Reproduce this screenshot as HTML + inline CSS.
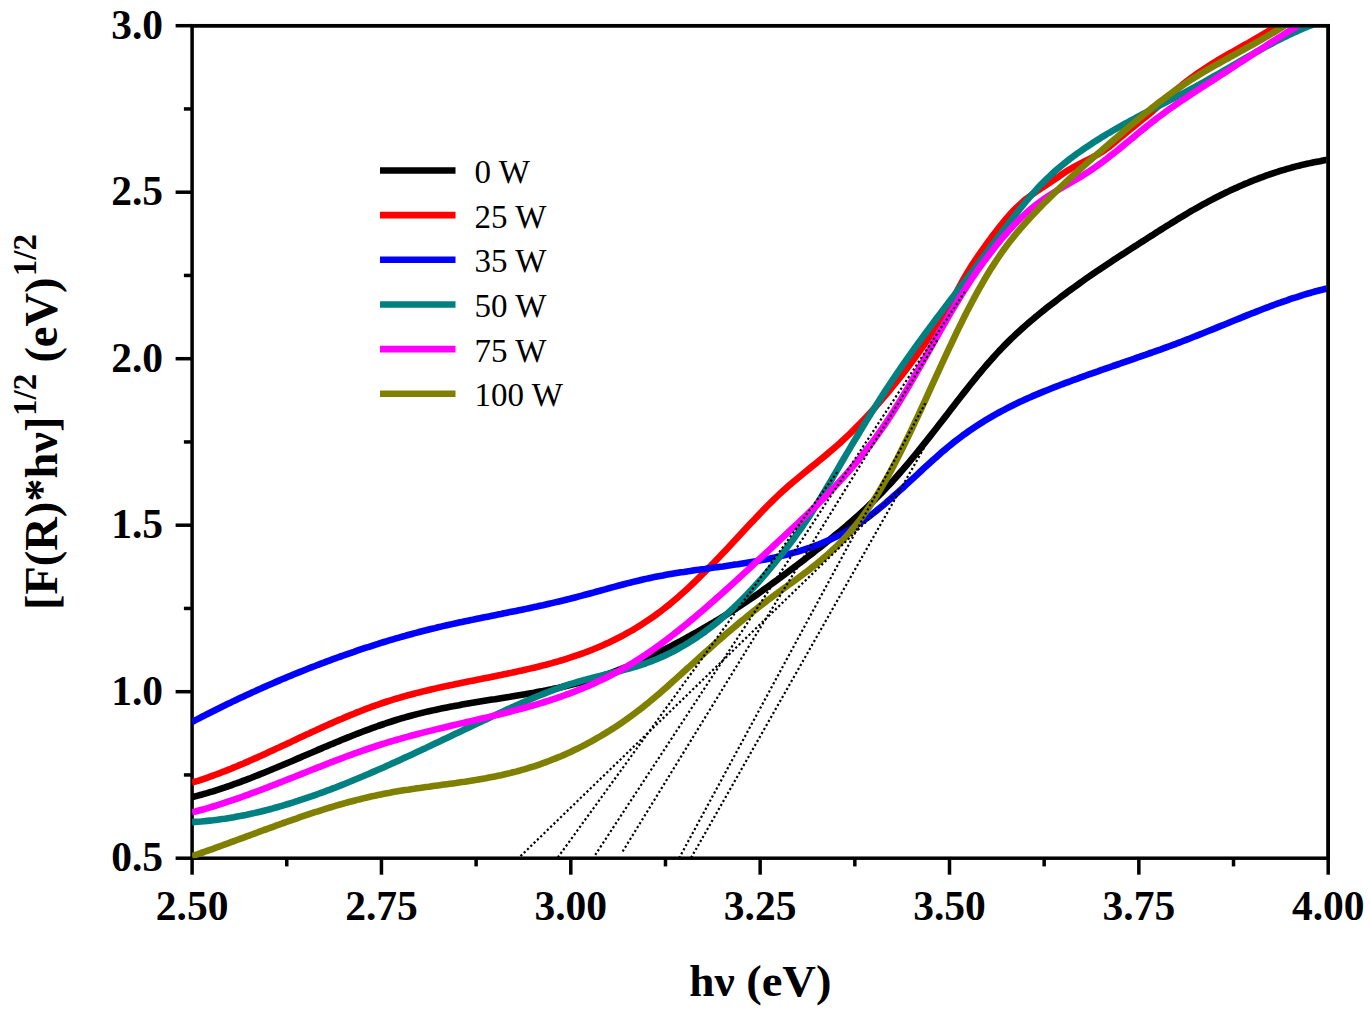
<!DOCTYPE html>
<html lang="en"><head><meta charset="utf-8"><title>Tauc plot</title>
<style>
html,body{margin:0;padding:0;background:#fff;}
body{width:1370px;height:1017px;overflow:hidden;}
svg{display:block;}
</style></head><body>
<svg width="1370" height="1017" viewBox="0 0 1370 1017">
<rect x="0" y="0" width="1370" height="1017" fill="#fff"/>
<defs><clipPath id="cp"><rect x="192.1" y="25.7" width="1136.10" height="832.50"/></clipPath></defs>
<g stroke="#000" stroke-width="3.5" fill="none" stroke-linecap="butt">
<rect x="192.1" y="25.7" width="1136.10" height="832.50"/>
<line x1="192.10" y1="858.2" x2="192.10" y2="874.70"/>
<line x1="286.77" y1="858.2" x2="286.77" y2="866.40"/>
<line x1="381.45" y1="858.2" x2="381.45" y2="874.70"/>
<line x1="476.12" y1="858.2" x2="476.12" y2="866.40"/>
<line x1="570.80" y1="858.2" x2="570.80" y2="874.70"/>
<line x1="665.48" y1="858.2" x2="665.48" y2="866.40"/>
<line x1="760.15" y1="858.2" x2="760.15" y2="874.70"/>
<line x1="854.83" y1="858.2" x2="854.83" y2="866.40"/>
<line x1="949.50" y1="858.2" x2="949.50" y2="874.70"/>
<line x1="1044.17" y1="858.2" x2="1044.17" y2="866.40"/>
<line x1="1138.85" y1="858.2" x2="1138.85" y2="874.70"/>
<line x1="1233.53" y1="858.2" x2="1233.53" y2="866.40"/>
<line x1="1328.20" y1="858.2" x2="1328.20" y2="874.70"/>
<line x1="192.1" y1="858.20" x2="175.60" y2="858.20"/>
<line x1="192.1" y1="774.95" x2="183.90" y2="774.95"/>
<line x1="192.1" y1="691.70" x2="175.60" y2="691.70"/>
<line x1="192.1" y1="608.45" x2="183.90" y2="608.45"/>
<line x1="192.1" y1="525.20" x2="175.60" y2="525.20"/>
<line x1="192.1" y1="441.95" x2="183.90" y2="441.95"/>
<line x1="192.1" y1="358.70" x2="175.60" y2="358.70"/>
<line x1="192.1" y1="275.45" x2="183.90" y2="275.45"/>
<line x1="192.1" y1="192.20" x2="175.60" y2="192.20"/>
<line x1="192.1" y1="108.95" x2="183.90" y2="108.95"/>
<line x1="192.1" y1="25.70" x2="175.60" y2="25.70"/>
</g>
<g clip-path="url(#cp)" fill="none" stroke-linejoin="round" stroke-linecap="butt">
<path d="M192.0 797.2 L195.0 796.4 L198.0 795.6 L201.0 794.8 L204.0 793.9 L207.0 793.1 L210.0 792.2 L213.0 791.3 L216.0 790.3 L219.0 789.4 L222.0 788.4 L225.0 787.4 L228.0 786.3 L231.0 785.3 L234.0 784.2 L237.0 783.2 L240.0 782.1 L243.0 780.9 L246.0 779.8 L249.0 778.7 L252.0 777.5 L255.0 776.3 L258.0 775.1 L261.0 773.9 L264.0 772.7 L267.0 771.5 L270.0 770.3 L273.0 769.0 L276.0 767.8 L279.0 766.5 L282.0 765.3 L285.0 764.0 L288.0 762.7 L291.0 761.5 L294.0 760.2 L297.0 758.9 L300.0 757.6 L303.0 756.3 L306.0 755.0 L309.0 753.7 L312.0 752.5 L315.0 751.2 L318.0 749.9 L321.0 748.6 L324.0 747.3 L327.0 746.1 L330.0 744.8 L333.0 743.6 L336.0 742.3 L339.0 741.1 L342.0 739.8 L345.0 738.6 L348.0 737.4 L351.0 736.2 L354.0 735.0 L357.0 733.8 L360.0 732.7 L363.0 731.5 L366.0 730.4 L369.0 729.3 L372.0 728.2 L375.0 727.1 L378.0 726.0 L381.0 725.0 L384.0 724.0 L387.0 722.9 L390.0 722.0 L393.0 721.0 L396.0 720.0 L399.0 719.1 L402.0 718.2 L405.0 717.4 L408.0 716.5 L411.0 715.7 L414.0 714.9 L417.0 714.1 L420.0 713.4 L423.0 712.6 L426.0 711.9 L429.0 711.2 L432.0 710.6 L435.0 709.9 L438.0 709.3 L441.0 708.6 L444.0 708.0 L447.0 707.4 L450.0 706.8 L453.0 706.3 L456.0 705.7 L459.0 705.2 L462.0 704.6 L465.0 704.1 L468.0 703.6 L471.0 703.1 L474.0 702.6 L477.0 702.1 L480.0 701.6 L483.0 701.1 L486.0 700.6 L489.0 700.1 L492.0 699.6 L495.0 699.2 L498.0 698.7 L501.0 698.2 L504.0 697.7 L507.0 697.2 L510.0 696.8 L513.0 696.3 L516.0 695.8 L519.0 695.3 L522.0 694.8 L525.0 694.3 L528.0 693.7 L531.0 693.2 L534.0 692.7 L537.0 692.1 L540.0 691.5 L543.0 691.0 L546.0 690.4 L549.0 689.8 L552.0 689.2 L555.0 688.5 L558.0 687.9 L561.0 687.2 L564.0 686.5 L567.0 685.8 L570.0 685.1 L573.0 684.4 L576.0 683.6 L579.0 682.8 L582.0 682.0 L585.0 681.2 L588.0 680.3 L591.0 679.4 L594.0 678.5 L597.0 677.6 L600.0 676.6 L603.0 675.6 L606.0 674.6 L609.0 673.6 L612.0 672.5 L615.0 671.4 L618.0 670.2 L621.0 669.1 L624.0 667.9 L627.0 666.7 L630.0 665.4 L633.0 664.2 L636.0 662.9 L639.0 661.5 L642.0 660.2 L645.0 658.8 L648.0 657.4 L651.0 656.0 L654.0 654.6 L657.0 653.1 L660.0 651.7 L663.0 650.2 L666.0 648.7 L669.0 647.1 L672.0 645.6 L675.0 644.0 L678.0 642.4 L681.0 640.8 L684.0 639.2 L687.0 637.5 L690.0 635.9 L693.0 634.2 L696.0 632.5 L699.0 630.8 L702.0 629.1 L705.0 627.3 L708.0 625.6 L711.0 623.8 L714.0 622.1 L717.0 620.3 L720.0 618.5 L723.0 616.7 L726.0 614.8 L729.0 613.0 L732.0 611.1 L735.0 609.2 L738.0 607.3 L741.0 605.3 L744.0 603.3 L747.0 601.3 L750.0 599.3 L753.0 597.3 L756.0 595.2 L759.0 593.1 L762.0 590.9 L765.0 588.8 L768.0 586.6 L771.0 584.4 L774.0 582.3 L777.0 580.1 L780.0 577.9 L783.0 575.6 L786.0 573.4 L789.0 571.2 L792.0 568.9 L795.0 566.6 L798.0 564.4 L801.0 562.1 L804.0 559.8 L807.0 557.5 L810.0 555.1 L813.0 552.8 L816.0 550.5 L819.0 548.1 L822.0 545.8 L825.0 543.4 L828.0 541.0 L831.0 538.6 L834.0 536.1 L837.0 533.7 L840.0 531.2 L843.0 528.7 L846.0 526.2 L849.0 523.6 L852.0 521.0 L855.0 518.3 L858.0 515.6 L861.0 512.9 L864.0 510.1 L867.0 507.3 L870.0 504.4 L873.0 501.5 L876.0 498.5 L879.0 495.5 L882.0 492.4 L885.0 489.3 L888.0 486.1 L891.0 482.9 L894.0 479.6 L897.0 476.2 L900.0 472.8 L903.0 469.4 L906.0 465.8 L909.0 462.3 L912.0 458.7 L915.0 455.1 L918.0 451.4 L921.0 447.7 L924.0 443.9 L927.0 440.2 L930.0 436.4 L933.0 432.5 L936.0 428.7 L939.0 424.8 L942.0 420.9 L945.0 417.1 L948.0 413.2 L951.0 409.3 L954.0 405.4 L957.0 401.5 L960.0 397.7 L963.0 393.9 L966.0 390.1 L969.0 386.3 L972.0 382.5 L975.0 378.8 L978.0 375.2 L981.0 371.6 L984.0 368.0 L987.0 364.5 L990.0 361.1 L993.0 357.7 L996.0 354.4 L999.0 351.1 L1002.0 348.0 L1005.0 344.9 L1008.0 341.9 L1011.0 338.9 L1014.0 336.1 L1017.0 333.2 L1020.0 330.5 L1023.0 327.8 L1026.0 325.1 L1029.0 322.5 L1032.0 320.0 L1035.0 317.4 L1038.0 315.0 L1041.0 312.5 L1044.0 310.1 L1047.0 307.7 L1050.0 305.4 L1053.0 303.1 L1056.0 300.8 L1059.0 298.5 L1062.0 296.2 L1065.0 294.0 L1068.0 291.7 L1071.0 289.5 L1074.0 287.3 L1077.0 285.2 L1080.0 283.0 L1083.0 280.9 L1086.0 278.7 L1089.0 276.6 L1092.0 274.5 L1095.0 272.5 L1098.0 270.4 L1101.0 268.4 L1104.0 266.4 L1107.0 264.4 L1110.0 262.4 L1113.0 260.4 L1116.0 258.5 L1119.0 256.5 L1122.0 254.6 L1125.0 252.7 L1128.0 250.7 L1131.0 248.8 L1134.0 246.9 L1137.0 245.0 L1140.0 243.0 L1143.0 241.1 L1146.0 239.2 L1149.0 237.3 L1152.0 235.4 L1155.0 233.4 L1158.0 231.5 L1161.0 229.6 L1164.0 227.7 L1167.0 225.8 L1170.0 224.0 L1173.0 222.1 L1176.0 220.3 L1179.0 218.4 L1182.0 216.6 L1185.0 214.8 L1188.0 213.0 L1191.0 211.2 L1194.0 209.5 L1197.0 207.8 L1200.0 206.1 L1203.0 204.4 L1206.0 202.8 L1209.0 201.2 L1212.0 199.6 L1215.0 198.0 L1218.0 196.5 L1221.0 195.0 L1224.0 193.5 L1227.0 192.1 L1230.0 190.6 L1233.0 189.2 L1236.0 187.9 L1239.0 186.5 L1242.0 185.2 L1245.0 183.9 L1248.0 182.7 L1251.0 181.4 L1254.0 180.2 L1257.0 179.1 L1260.0 177.9 L1263.0 176.8 L1266.0 175.7 L1269.0 174.7 L1272.0 173.6 L1275.0 172.6 L1278.0 171.7 L1281.0 170.7 L1284.0 169.8 L1287.0 168.9 L1290.0 168.1 L1293.0 167.2 L1296.0 166.4 L1299.0 165.7 L1302.0 164.9 L1305.0 164.2 L1308.0 163.6 L1311.0 162.9 L1314.0 162.3 L1317.0 161.7 L1320.0 161.2 L1323.0 160.6 L1326.0 160.1 L1326.5 160.1" stroke="#000000" stroke-width="6.6"/>
<path d="M192.0 782.7 L195.0 781.7 L198.0 780.8 L201.0 779.8 L204.0 778.8 L207.0 777.8 L210.0 776.7 L213.0 775.6 L216.0 774.5 L219.0 773.4 L222.0 772.2 L225.0 771.1 L228.0 769.9 L231.0 768.7 L234.0 767.4 L237.0 766.2 L240.0 764.9 L243.0 763.7 L246.0 762.4 L249.0 761.1 L252.0 759.7 L255.0 758.4 L258.0 757.1 L261.0 755.7 L264.0 754.4 L267.0 753.0 L270.0 751.6 L273.0 750.2 L276.0 748.8 L279.0 747.5 L282.0 746.1 L285.0 744.7 L288.0 743.3 L291.0 741.9 L294.0 740.4 L297.0 739.0 L300.0 737.6 L303.0 736.2 L306.0 734.8 L309.0 733.5 L312.0 732.1 L315.0 730.7 L318.0 729.3 L321.0 727.9 L324.0 726.6 L327.0 725.2 L330.0 723.9 L333.0 722.6 L336.0 721.2 L339.0 719.9 L342.0 718.7 L345.0 717.4 L348.0 716.1 L351.0 714.9 L354.0 713.7 L357.0 712.4 L360.0 711.3 L363.0 710.1 L366.0 708.9 L369.0 707.8 L372.0 706.7 L375.0 705.6 L378.0 704.6 L381.0 703.5 L384.0 702.5 L387.0 701.5 L390.0 700.6 L393.0 699.7 L396.0 698.7 L399.0 697.9 L402.0 697.0 L405.0 696.1 L408.0 695.3 L411.0 694.5 L414.0 693.7 L417.0 692.9 L420.0 692.2 L423.0 691.4 L426.0 690.7 L429.0 690.0 L432.0 689.3 L435.0 688.6 L438.0 687.9 L441.0 687.2 L444.0 686.6 L447.0 685.9 L450.0 685.3 L453.0 684.7 L456.0 684.0 L459.0 683.4 L462.0 682.8 L465.0 682.2 L468.0 681.6 L471.0 681.0 L474.0 680.4 L477.0 679.8 L480.0 679.2 L483.0 678.6 L486.0 678.0 L489.0 677.4 L492.0 676.8 L495.0 676.2 L498.0 675.6 L501.0 675.0 L504.0 674.3 L507.0 673.7 L510.0 673.1 L513.0 672.4 L516.0 671.8 L519.0 671.1 L522.0 670.5 L525.0 669.8 L528.0 669.1 L531.0 668.4 L534.0 667.7 L537.0 667.0 L540.0 666.2 L543.0 665.4 L546.0 664.7 L549.0 663.9 L552.0 663.1 L555.0 662.2 L558.0 661.4 L561.0 660.5 L564.0 659.6 L567.0 658.6 L570.0 657.7 L573.0 656.7 L576.0 655.7 L579.0 654.7 L582.0 653.6 L585.0 652.5 L588.0 651.4 L591.0 650.2 L594.0 649.0 L597.0 647.8 L600.0 646.5 L603.0 645.2 L606.0 643.8 L609.0 642.4 L612.0 641.0 L615.0 639.5 L618.0 638.0 L621.0 636.5 L624.0 634.9 L627.0 633.2 L630.0 631.5 L633.0 629.8 L636.0 628.0 L639.0 626.2 L642.0 624.3 L645.0 622.3 L648.0 620.3 L651.0 618.3 L654.0 616.2 L657.0 614.0 L660.0 611.8 L663.0 609.5 L666.0 607.2 L669.0 604.8 L672.0 602.3 L675.0 599.8 L678.0 597.2 L681.0 594.6 L684.0 591.9 L687.0 589.1 L690.0 586.3 L693.0 583.5 L696.0 580.6 L699.0 577.7 L702.0 574.7 L705.0 571.7 L708.0 568.7 L711.0 565.6 L714.0 562.5 L717.0 559.4 L720.0 556.3 L723.0 553.1 L726.0 549.9 L729.0 546.7 L732.0 543.5 L735.0 540.3 L738.0 537.0 L741.0 533.8 L744.0 530.5 L747.0 527.3 L750.0 524.1 L753.0 520.9 L756.0 517.7 L759.0 514.6 L762.0 511.4 L765.0 508.4 L768.0 505.3 L771.0 502.3 L774.0 499.4 L777.0 496.5 L780.0 493.7 L783.0 490.9 L786.0 488.2 L789.0 485.6 L792.0 483.0 L795.0 480.5 L798.0 478.0 L801.0 475.5 L804.0 473.0 L807.0 470.6 L810.0 468.1 L813.0 465.7 L816.0 463.3 L819.0 460.8 L822.0 458.4 L825.0 455.9 L828.0 453.4 L831.0 450.8 L834.0 448.3 L837.0 445.6 L840.0 443.0 L843.0 440.2 L846.0 437.4 L849.0 434.6 L852.0 431.7 L855.0 428.7 L858.0 425.7 L861.0 422.6 L864.0 419.4 L867.0 416.2 L870.0 413.0 L873.0 409.7 L876.0 406.3 L879.0 402.9 L882.0 399.4 L885.0 395.9 L888.0 392.3 L891.0 388.7 L894.0 385.0 L897.0 381.2 L900.0 377.4 L903.0 373.6 L906.0 369.7 L909.0 365.7 L912.0 361.7 L915.0 357.7 L918.0 353.5 L921.0 349.3 L924.0 345.1 L927.0 340.7 L930.0 336.2 L933.0 331.7 L936.0 327.0 L939.0 322.3 L942.0 317.4 L945.0 312.4 L948.0 307.2 L951.0 302.0 L954.0 296.6 L957.0 291.1 L960.0 285.6 L963.0 280.2 L966.0 275.0 L969.0 269.9 L972.0 265.1 L975.0 260.6 L978.0 256.2 L981.0 251.9 L984.0 247.7 L987.0 243.5 L990.0 239.4 L993.0 235.3 L996.0 231.4 L999.0 227.5 L1002.0 223.8 L1005.0 220.2 L1008.0 216.7 L1011.0 213.3 L1014.0 210.1 L1017.0 207.1 L1020.0 204.3 L1023.0 201.6 L1026.0 199.1 L1029.0 196.8 L1032.0 194.6 L1035.0 192.5 L1038.0 190.4 L1041.0 188.4 L1044.0 186.5 L1047.0 184.5 L1050.0 182.5 L1053.0 180.5 L1056.0 178.4 L1059.0 176.4 L1062.0 174.3 L1065.0 172.3 L1068.0 170.4 L1071.0 168.6 L1074.0 166.9 L1077.0 165.3 L1080.0 163.7 L1083.0 162.2 L1086.0 160.7 L1089.0 159.2 L1092.0 157.6 L1095.0 156.0 L1098.0 154.3 L1101.0 152.5 L1104.0 150.5 L1107.0 148.4 L1110.0 146.1 L1113.0 143.7 L1116.0 141.2 L1119.0 138.6 L1122.0 136.1 L1125.0 133.6 L1128.0 131.2 L1131.0 128.7 L1134.0 126.3 L1137.0 123.9 L1140.0 121.5 L1143.0 119.0 L1146.0 116.6 L1149.0 114.1 L1152.0 111.6 L1155.0 109.0 L1158.0 106.4 L1161.0 103.7 L1164.0 100.9 L1167.0 98.2 L1170.0 95.5 L1173.0 92.8 L1176.0 90.1 L1179.0 87.6 L1182.0 85.1 L1185.0 82.7 L1188.0 80.4 L1191.0 78.1 L1194.0 75.9 L1197.0 73.8 L1200.0 71.7 L1203.0 69.7 L1206.0 67.7 L1209.0 65.8 L1212.0 63.9 L1215.0 62.0 L1218.0 60.2 L1221.0 58.4 L1224.0 56.7 L1227.0 54.9 L1230.0 53.2 L1233.0 51.5 L1236.0 49.8 L1239.0 48.1 L1242.0 46.4 L1245.0 44.7 L1248.0 43.1 L1251.0 41.4 L1254.0 39.6 L1257.0 37.9 L1260.0 36.2 L1263.0 34.4 L1266.0 32.6 L1269.0 30.7 L1272.0 28.9 L1275.0 26.9 L1278.0 25.0 L1281.0 23.0 L1284.0 20.9 L1287.0 18.8 L1290.0 16.6" stroke="#FF0000" stroke-width="6.6"/>
<path d="M192.0 722.0 L195.0 720.4 L198.0 718.9 L201.0 717.3 L204.0 715.8 L207.0 714.2 L210.0 712.7 L213.0 711.2 L216.0 709.7 L219.0 708.2 L222.0 706.7 L225.0 705.3 L228.0 703.8 L231.0 702.4 L234.0 700.9 L237.0 699.5 L240.0 698.1 L243.0 696.7 L246.0 695.3 L249.0 693.9 L252.0 692.5 L255.0 691.2 L258.0 689.8 L261.0 688.5 L264.0 687.1 L267.0 685.8 L270.0 684.5 L273.0 683.2 L276.0 681.9 L279.0 680.6 L282.0 679.3 L285.0 678.1 L288.0 676.8 L291.0 675.6 L294.0 674.3 L297.0 673.1 L300.0 671.9 L303.0 670.7 L306.0 669.5 L309.0 668.3 L312.0 667.1 L315.0 666.0 L318.0 664.8 L321.0 663.7 L324.0 662.6 L327.0 661.4 L330.0 660.3 L333.0 659.2 L336.0 658.1 L339.0 657.0 L342.0 656.0 L345.0 654.9 L348.0 653.8 L351.0 652.8 L354.0 651.8 L357.0 650.7 L360.0 649.7 L363.0 648.7 L366.0 647.7 L369.0 646.8 L372.0 645.8 L375.0 644.8 L378.0 643.9 L381.0 642.9 L384.0 642.0 L387.0 641.1 L390.0 640.2 L393.0 639.3 L396.0 638.4 L399.0 637.6 L402.0 636.7 L405.0 635.9 L408.0 635.0 L411.0 634.2 L414.0 633.4 L417.0 632.6 L420.0 631.8 L423.0 631.0 L426.0 630.3 L429.0 629.5 L432.0 628.8 L435.0 628.1 L438.0 627.3 L441.0 626.6 L444.0 625.9 L447.0 625.2 L450.0 624.6 L453.0 623.9 L456.0 623.2 L459.0 622.6 L462.0 622.0 L465.0 621.3 L468.0 620.7 L471.0 620.1 L474.0 619.4 L477.0 618.8 L480.0 618.2 L483.0 617.6 L486.0 617.0 L489.0 616.4 L492.0 615.8 L495.0 615.2 L498.0 614.6 L501.0 614.0 L504.0 613.3 L507.0 612.7 L510.0 612.1 L513.0 611.5 L516.0 610.9 L519.0 610.3 L522.0 609.7 L525.0 609.1 L528.0 608.4 L531.0 607.8 L534.0 607.1 L537.0 606.5 L540.0 605.8 L543.0 605.2 L546.0 604.5 L549.0 603.8 L552.0 603.1 L555.0 602.4 L558.0 601.7 L561.0 601.0 L564.0 600.3 L567.0 599.5 L570.0 598.8 L573.0 598.0 L576.0 597.2 L579.0 596.4 L582.0 595.6 L585.0 594.8 L588.0 594.0 L591.0 593.2 L594.0 592.4 L597.0 591.5 L600.0 590.7 L603.0 589.9 L606.0 589.1 L609.0 588.2 L612.0 587.4 L615.0 586.6 L618.0 585.8 L621.0 585.0 L624.0 584.2 L627.0 583.4 L630.0 582.7 L633.0 581.9 L636.0 581.2 L639.0 580.5 L642.0 579.7 L645.0 579.1 L648.0 578.4 L651.0 577.8 L654.0 577.1 L657.0 576.5 L660.0 575.9 L663.0 575.4 L666.0 574.8 L669.0 574.3 L672.0 573.8 L675.0 573.3 L678.0 572.8 L681.0 572.3 L684.0 571.9 L687.0 571.4 L690.0 571.0 L693.0 570.5 L696.0 570.1 L699.0 569.7 L702.0 569.3 L705.0 568.9 L708.0 568.4 L711.0 568.0 L714.0 567.6 L717.0 567.2 L720.0 566.8 L723.0 566.4 L726.0 565.9 L729.0 565.5 L732.0 565.1 L735.0 564.6 L738.0 564.2 L741.0 563.7 L744.0 563.2 L747.0 562.7 L750.0 562.2 L753.0 561.7 L756.0 561.2 L759.0 560.6 L762.0 560.1 L765.0 559.5 L768.0 558.9 L771.0 558.3 L774.0 557.6 L777.0 556.9 L780.0 556.2 L783.0 555.5 L786.0 554.8 L789.0 554.0 L792.0 553.2 L795.0 552.3 L798.0 551.5 L801.0 550.6 L804.0 549.6 L807.0 548.6 L810.0 547.6 L813.0 546.5 L816.0 545.4 L819.0 544.3 L822.0 543.1 L825.0 541.8 L828.0 540.5 L831.0 539.2 L834.0 537.8 L837.0 536.3 L840.0 534.8 L843.0 533.2 L846.0 531.5 L849.0 529.8 L852.0 528.0 L855.0 526.1 L858.0 524.2 L861.0 522.2 L864.0 520.1 L867.0 518.0 L870.0 515.8 L873.0 513.5 L876.0 511.1 L879.0 508.7 L882.0 506.2 L885.0 503.7 L888.0 501.1 L891.0 498.5 L894.0 495.8 L897.0 493.1 L900.0 490.4 L903.0 487.7 L906.0 484.9 L909.0 482.1 L912.0 479.3 L915.0 476.6 L918.0 473.8 L921.0 471.0 L924.0 468.2 L927.0 465.5 L930.0 462.8 L933.0 460.0 L936.0 457.4 L939.0 454.7 L942.0 452.1 L945.0 449.6 L948.0 447.0 L951.0 444.6 L954.0 442.2 L957.0 439.8 L960.0 437.6 L963.0 435.3 L966.0 433.2 L969.0 431.0 L972.0 429.0 L975.0 427.0 L978.0 425.0 L981.0 423.1 L984.0 421.2 L987.0 419.4 L990.0 417.6 L993.0 415.8 L996.0 414.1 L999.0 412.5 L1002.0 410.9 L1005.0 409.3 L1008.0 407.7 L1011.0 406.2 L1014.0 404.7 L1017.0 403.3 L1020.0 401.8 L1023.0 400.5 L1026.0 399.1 L1029.0 397.8 L1032.0 396.4 L1035.0 395.1 L1038.0 393.9 L1041.0 392.6 L1044.0 391.4 L1047.0 390.2 L1050.0 389.0 L1053.0 387.8 L1056.0 386.6 L1059.0 385.5 L1062.0 384.3 L1065.0 383.2 L1068.0 382.1 L1071.0 381.0 L1074.0 379.8 L1077.0 378.8 L1080.0 377.7 L1083.0 376.6 L1086.0 375.5 L1089.0 374.4 L1092.0 373.4 L1095.0 372.3 L1098.0 371.3 L1101.0 370.2 L1104.0 369.2 L1107.0 368.1 L1110.0 367.1 L1113.0 366.0 L1116.0 365.0 L1119.0 364.0 L1122.0 362.9 L1125.0 361.9 L1128.0 360.8 L1131.0 359.8 L1134.0 358.8 L1137.0 357.7 L1140.0 356.7 L1143.0 355.6 L1146.0 354.6 L1149.0 353.5 L1152.0 352.5 L1155.0 351.4 L1158.0 350.3 L1161.0 349.3 L1164.0 348.2 L1167.0 347.1 L1170.0 346.0 L1173.0 344.9 L1176.0 343.8 L1179.0 342.6 L1182.0 341.5 L1185.0 340.3 L1188.0 339.2 L1191.0 338.0 L1194.0 336.8 L1197.0 335.6 L1200.0 334.4 L1203.0 333.2 L1206.0 332.0 L1209.0 330.8 L1212.0 329.6 L1215.0 328.4 L1218.0 327.1 L1221.0 325.9 L1224.0 324.7 L1227.0 323.5 L1230.0 322.2 L1233.0 321.0 L1236.0 319.8 L1239.0 318.6 L1242.0 317.4 L1245.0 316.1 L1248.0 314.9 L1251.0 313.7 L1254.0 312.6 L1257.0 311.4 L1260.0 310.2 L1263.0 309.0 L1266.0 307.9 L1269.0 306.8 L1272.0 305.6 L1275.0 304.5 L1278.0 303.4 L1281.0 302.4 L1284.0 301.3 L1287.0 300.3 L1290.0 299.2 L1293.0 298.2 L1296.0 297.3 L1299.0 296.3 L1302.0 295.3 L1305.0 294.4 L1308.0 293.5 L1311.0 292.7 L1314.0 291.8 L1317.0 291.0 L1320.0 290.2 L1323.0 289.5 L1326.0 288.7 L1326.5 288.6" stroke="#0000FF" stroke-width="6.6"/>
<path d="M192.0 822.1 L195.0 821.9 L198.0 821.7 L201.0 821.5 L204.0 821.2 L207.0 820.9 L210.0 820.6 L213.0 820.3 L216.0 819.9 L219.0 819.5 L222.0 819.1 L225.0 818.7 L228.0 818.2 L231.0 817.7 L234.0 817.2 L237.0 816.6 L240.0 816.1 L243.0 815.5 L246.0 814.9 L249.0 814.2 L252.0 813.6 L255.0 812.9 L258.0 812.2 L261.0 811.5 L264.0 810.7 L267.0 810.0 L270.0 809.2 L273.0 808.4 L276.0 807.5 L279.0 806.7 L282.0 805.8 L285.0 804.9 L288.0 804.0 L291.0 803.1 L294.0 802.2 L297.0 801.2 L300.0 800.2 L303.0 799.2 L306.0 798.2 L309.0 797.2 L312.0 796.2 L315.0 795.1 L318.0 794.0 L321.0 792.9 L324.0 791.8 L327.0 790.7 L330.0 789.6 L333.0 788.4 L336.0 787.3 L339.0 786.1 L342.0 784.9 L345.0 783.7 L348.0 782.5 L351.0 781.3 L354.0 780.0 L357.0 778.8 L360.0 777.5 L363.0 776.3 L366.0 775.0 L369.0 773.7 L372.0 772.4 L375.0 771.1 L378.0 769.8 L381.0 768.5 L384.0 767.2 L387.0 765.8 L390.0 764.5 L393.0 763.1 L396.0 761.8 L399.0 760.4 L402.0 759.0 L405.0 757.6 L408.0 756.3 L411.0 754.9 L414.0 753.5 L417.0 752.1 L420.0 750.7 L423.0 749.3 L426.0 747.9 L429.0 746.4 L432.0 745.0 L435.0 743.6 L438.0 742.2 L441.0 740.8 L444.0 739.3 L447.0 737.9 L450.0 736.5 L453.0 735.0 L456.0 733.6 L459.0 732.2 L462.0 730.8 L465.0 729.3 L468.0 727.9 L471.0 726.5 L474.0 725.1 L477.0 723.6 L480.0 722.2 L483.0 720.8 L486.0 719.4 L489.0 718.0 L492.0 716.6 L495.0 715.2 L498.0 713.8 L501.0 712.4 L504.0 711.0 L507.0 709.6 L510.0 708.2 L513.0 706.9 L516.0 705.5 L519.0 704.2 L522.0 702.9 L525.0 701.6 L528.0 700.3 L531.0 699.0 L534.0 697.7 L537.0 696.5 L540.0 695.3 L543.0 694.1 L546.0 692.9 L549.0 691.7 L552.0 690.6 L555.0 689.4 L558.0 688.4 L561.0 687.3 L564.0 686.2 L567.0 685.2 L570.0 684.2 L573.0 683.3 L576.0 682.4 L579.0 681.5 L582.0 680.6 L585.0 679.8 L588.0 678.9 L591.0 678.2 L594.0 677.4 L597.0 676.6 L600.0 675.9 L603.0 675.2 L606.0 674.4 L609.0 673.7 L612.0 673.0 L615.0 672.2 L618.0 671.5 L621.0 670.7 L624.0 669.9 L627.0 669.1 L630.0 668.3 L633.0 667.4 L636.0 666.5 L639.0 665.6 L642.0 664.6 L645.0 663.6 L648.0 662.5 L651.0 661.4 L654.0 660.2 L657.0 659.0 L660.0 657.7 L663.0 656.4 L666.0 655.0 L669.0 653.6 L672.0 652.1 L675.0 650.5 L678.0 648.9 L681.0 647.2 L684.0 645.5 L687.0 643.7 L690.0 641.8 L693.0 639.9 L696.0 638.0 L699.0 635.9 L702.0 633.8 L705.0 631.7 L708.0 629.4 L711.0 627.1 L714.0 624.8 L717.0 622.4 L720.0 619.9 L723.0 617.3 L726.0 614.7 L729.0 612.0 L732.0 609.3 L735.0 606.4 L738.0 603.5 L741.0 600.6 L744.0 597.6 L747.0 594.5 L750.0 591.3 L753.0 588.1 L756.0 584.8 L759.0 581.5 L762.0 578.1 L765.0 574.6 L768.0 571.1 L771.0 567.5 L774.0 563.9 L777.0 560.2 L780.0 556.5 L783.0 552.7 L786.0 548.8 L789.0 544.9 L792.0 540.9 L795.0 536.9 L798.0 532.7 L801.0 528.5 L804.0 524.2 L807.0 519.7 L810.0 515.1 L813.0 510.5 L816.0 505.7 L819.0 500.8 L822.0 495.8 L825.0 490.8 L828.0 485.7 L831.0 480.6 L834.0 475.4 L837.0 470.3 L840.0 465.1 L843.0 460.0 L846.0 454.9 L849.0 449.8 L852.0 444.7 L855.0 439.7 L858.0 434.7 L861.0 429.8 L864.0 424.8 L867.0 419.9 L870.0 415.1 L873.0 410.3 L876.0 405.5 L879.0 400.7 L882.0 396.1 L885.0 391.4 L888.0 386.9 L891.0 382.3 L894.0 377.8 L897.0 373.4 L900.0 369.0 L903.0 364.7 L906.0 360.4 L909.0 356.1 L912.0 351.9 L915.0 347.7 L918.0 343.5 L921.0 339.4 L924.0 335.3 L927.0 331.2 L930.0 327.2 L933.0 323.1 L936.0 319.1 L939.0 315.2 L942.0 311.2 L945.0 307.2 L948.0 303.3 L951.0 299.3 L954.0 295.4 L957.0 291.5 L960.0 287.6 L963.0 283.6 L966.0 279.7 L969.0 275.8 L972.0 271.9 L975.0 267.9 L978.0 264.0 L981.0 260.0 L984.0 256.1 L987.0 252.1 L990.0 248.1 L993.0 244.1 L996.0 240.1 L999.0 236.1 L1002.0 232.1 L1005.0 228.1 L1008.0 224.2 L1011.0 220.3 L1014.0 216.4 L1017.0 212.6 L1020.0 208.8 L1023.0 205.1 L1026.0 201.5 L1029.0 197.9 L1032.0 194.5 L1035.0 191.1 L1038.0 187.8 L1041.0 184.6 L1044.0 181.6 L1047.0 178.6 L1050.0 175.8 L1053.0 173.0 L1056.0 170.3 L1059.0 167.7 L1062.0 165.2 L1065.0 162.8 L1068.0 160.4 L1071.0 158.1 L1074.0 155.9 L1077.0 153.7 L1080.0 151.6 L1083.0 149.5 L1086.0 147.4 L1089.0 145.4 L1092.0 143.4 L1095.0 141.5 L1098.0 139.6 L1101.0 137.7 L1104.0 135.9 L1107.0 134.0 L1110.0 132.3 L1113.0 130.5 L1116.0 128.8 L1119.0 127.1 L1122.0 125.4 L1125.0 123.7 L1128.0 122.1 L1131.0 120.4 L1134.0 118.8 L1137.0 117.2 L1140.0 115.6 L1143.0 114.0 L1146.0 112.5 L1149.0 110.9 L1152.0 109.4 L1155.0 107.8 L1158.0 106.3 L1161.0 104.7 L1164.0 103.2 L1167.0 101.7 L1170.0 100.1 L1173.0 98.6 L1176.0 97.0 L1179.0 95.4 L1182.0 93.9 L1185.0 92.3 L1188.0 90.7 L1191.0 89.1 L1194.0 87.5 L1197.0 85.8 L1200.0 84.2 L1203.0 82.5 L1206.0 80.8 L1209.0 79.1 L1212.0 77.4 L1215.0 75.7 L1218.0 74.0 L1221.0 72.3 L1224.0 70.5 L1227.0 68.8 L1230.0 67.1 L1233.0 65.3 L1236.0 63.6 L1239.0 61.9 L1242.0 60.1 L1245.0 58.4 L1248.0 56.7 L1251.0 55.0 L1254.0 53.3 L1257.0 51.6 L1260.0 50.0 L1263.0 48.3 L1266.0 46.7 L1269.0 45.1 L1272.0 43.5 L1275.0 41.9 L1278.0 40.4 L1281.0 38.8 L1284.0 37.3 L1287.0 35.9 L1290.0 34.4 L1293.0 33.0 L1296.0 31.7 L1299.0 30.3 L1302.0 29.0 L1305.0 27.8 L1308.0 26.5 L1311.0 25.4 L1314.0 24.2 L1317.0 23.1 L1320.0 22.1 L1323.0 21.1 L1326.0 20.1 L1326.5 20.0" stroke="#008080" stroke-width="6.6"/>
<path d="M192.0 812.4 L195.0 811.6 L198.0 810.8 L201.0 810.0 L204.0 809.2 L207.0 808.3 L210.0 807.4 L213.0 806.5 L216.0 805.6 L219.0 804.6 L222.0 803.7 L225.0 802.7 L228.0 801.7 L231.0 800.7 L234.0 799.7 L237.0 798.6 L240.0 797.6 L243.0 796.5 L246.0 795.4 L249.0 794.3 L252.0 793.2 L255.0 792.1 L258.0 791.0 L261.0 789.9 L264.0 788.7 L267.0 787.6 L270.0 786.4 L273.0 785.2 L276.0 784.1 L279.0 782.9 L282.0 781.7 L285.0 780.5 L288.0 779.3 L291.0 778.2 L294.0 777.0 L297.0 775.8 L300.0 774.6 L303.0 773.4 L306.0 772.2 L309.0 771.0 L312.0 769.8 L315.0 768.6 L318.0 767.4 L321.0 766.3 L324.0 765.1 L327.0 763.9 L330.0 762.7 L333.0 761.6 L336.0 760.4 L339.0 759.3 L342.0 758.2 L345.0 757.0 L348.0 755.9 L351.0 754.8 L354.0 753.7 L357.0 752.7 L360.0 751.6 L363.0 750.5 L366.0 749.5 L369.0 748.5 L372.0 747.5 L375.0 746.5 L378.0 745.5 L381.0 744.5 L384.0 743.6 L387.0 742.7 L390.0 741.7 L393.0 740.9 L396.0 740.0 L399.0 739.1 L402.0 738.3 L405.0 737.4 L408.0 736.6 L411.0 735.8 L414.0 735.0 L417.0 734.2 L420.0 733.4 L423.0 732.6 L426.0 731.9 L429.0 731.1 L432.0 730.4 L435.0 729.6 L438.0 728.9 L441.0 728.2 L444.0 727.5 L447.0 726.7 L450.0 726.0 L453.0 725.3 L456.0 724.6 L459.0 723.9 L462.0 723.2 L465.0 722.5 L468.0 721.8 L471.0 721.1 L474.0 720.4 L477.0 719.7 L480.0 719.0 L483.0 718.3 L486.0 717.6 L489.0 716.9 L492.0 716.1 L495.0 715.4 L498.0 714.7 L501.0 714.0 L504.0 713.2 L507.0 712.5 L510.0 711.7 L513.0 710.9 L516.0 710.1 L519.0 709.3 L522.0 708.5 L525.0 707.7 L528.0 706.9 L531.0 706.0 L534.0 705.2 L537.0 704.3 L540.0 703.4 L543.0 702.5 L546.0 701.5 L549.0 700.6 L552.0 699.6 L555.0 698.6 L558.0 697.6 L561.0 696.6 L564.0 695.5 L567.0 694.4 L570.0 693.3 L573.0 692.2 L576.0 691.0 L579.0 689.8 L582.0 688.6 L585.0 687.3 L588.0 686.1 L591.0 684.8 L594.0 683.4 L597.0 682.0 L600.0 680.6 L603.0 679.2 L606.0 677.7 L609.0 676.2 L612.0 674.7 L615.0 673.1 L618.0 671.5 L621.0 669.8 L624.0 668.1 L627.0 666.4 L630.0 664.6 L633.0 662.8 L636.0 660.9 L639.0 659.0 L642.0 657.1 L645.0 655.1 L648.0 653.0 L651.0 651.0 L654.0 648.9 L657.0 646.7 L660.0 644.6 L663.0 642.3 L666.0 640.1 L669.0 637.8 L672.0 635.5 L675.0 633.2 L678.0 630.8 L681.0 628.4 L684.0 626.0 L687.0 623.6 L690.0 621.1 L693.0 618.6 L696.0 616.1 L699.0 613.5 L702.0 611.0 L705.0 608.4 L708.0 605.8 L711.0 603.1 L714.0 600.5 L717.0 597.8 L720.0 595.2 L723.0 592.5 L726.0 589.8 L729.0 587.1 L732.0 584.3 L735.0 581.6 L738.0 578.8 L741.0 576.1 L744.0 573.3 L747.0 570.6 L750.0 567.8 L753.0 565.0 L756.0 562.2 L759.0 559.4 L762.0 556.6 L765.0 553.8 L768.0 551.1 L771.0 548.3 L774.0 545.5 L777.0 542.7 L780.0 539.9 L783.0 537.1 L786.0 534.3 L789.0 531.5 L792.0 528.7 L795.0 525.9 L798.0 523.1 L801.0 520.2 L804.0 517.4 L807.0 514.5 L810.0 511.6 L813.0 508.7 L816.0 505.8 L819.0 502.8 L822.0 499.8 L825.0 496.8 L828.0 493.7 L831.0 490.6 L834.0 487.5 L837.0 484.3 L840.0 481.0 L843.0 477.8 L846.0 474.4 L849.0 471.0 L852.0 467.5 L855.0 464.0 L858.0 460.4 L861.0 456.7 L864.0 453.0 L867.0 449.1 L870.0 445.2 L873.0 441.2 L876.0 437.1 L879.0 432.9 L882.0 428.7 L885.0 424.3 L888.0 419.8 L891.0 415.2 L894.0 410.5 L897.0 405.7 L900.0 400.9 L903.0 395.9 L906.0 390.9 L909.0 385.8 L912.0 380.6 L915.0 375.4 L918.0 370.2 L921.0 364.9 L924.0 359.6 L927.0 354.3 L930.0 349.0 L933.0 343.6 L936.0 338.3 L939.0 333.0 L942.0 327.8 L945.0 322.6 L948.0 317.4 L951.0 312.2 L954.0 307.2 L957.0 302.2 L960.0 297.2 L963.0 292.4 L966.0 287.7 L969.0 283.0 L972.0 278.5 L975.0 274.1 L978.0 269.7 L981.0 265.5 L984.0 261.4 L987.0 257.4 L990.0 253.4 L993.0 249.6 L996.0 245.8 L999.0 242.1 L1002.0 238.5 L1005.0 235.0 L1008.0 231.6 L1011.0 228.2 L1014.0 225.0 L1017.0 221.9 L1020.0 218.9 L1023.0 216.0 L1026.0 213.2 L1029.0 210.6 L1032.0 208.0 L1035.0 205.6 L1038.0 203.3 L1041.0 201.1 L1044.0 199.0 L1047.0 196.9 L1050.0 195.0 L1053.0 193.1 L1056.0 191.2 L1059.0 189.4 L1062.0 187.6 L1065.0 185.9 L1068.0 184.1 L1071.0 182.4 L1074.0 180.7 L1077.0 178.9 L1080.0 177.1 L1083.0 175.3 L1086.0 173.4 L1089.0 171.5 L1092.0 169.5 L1095.0 167.4 L1098.0 165.3 L1101.0 163.1 L1104.0 160.9 L1107.0 158.6 L1110.0 156.2 L1113.0 153.9 L1116.0 151.5 L1119.0 149.1 L1122.0 146.6 L1125.0 144.2 L1128.0 141.7 L1131.0 139.2 L1134.0 136.8 L1137.0 134.3 L1140.0 131.8 L1143.0 129.4 L1146.0 126.9 L1149.0 124.5 L1152.0 122.2 L1155.0 119.8 L1158.0 117.5 L1161.0 115.3 L1164.0 113.1 L1167.0 110.9 L1170.0 108.7 L1173.0 106.6 L1176.0 104.5 L1179.0 102.5 L1182.0 100.4 L1185.0 98.4 L1188.0 96.4 L1191.0 94.4 L1194.0 92.5 L1197.0 90.5 L1200.0 88.6 L1203.0 86.6 L1206.0 84.7 L1209.0 82.8 L1212.0 80.9 L1215.0 78.9 L1218.0 77.0 L1221.0 75.0 L1224.0 73.1 L1227.0 71.2 L1230.0 69.2 L1233.0 67.3 L1236.0 65.3 L1239.0 63.3 L1242.0 61.4 L1245.0 59.4 L1248.0 57.5 L1251.0 55.5 L1254.0 53.6 L1257.0 51.6 L1260.0 49.7 L1263.0 47.7 L1266.0 45.8 L1269.0 43.8 L1272.0 41.9 L1275.0 40.0 L1278.0 38.1 L1281.0 36.2 L1284.0 34.3 L1287.0 32.4 L1290.0 30.5 L1293.0 28.6 L1296.0 26.8 L1299.0 24.9 L1302.0 23.1 L1305.0 21.2 L1308.0 19.4 L1311.0 17.6 L1314.0 15.8 L1315.0 15.2" stroke="#FF00FF" stroke-width="6.6"/>
<path d="M192.0 856.2 L195.0 855.1 L198.0 854.1 L201.0 853.0 L204.0 852.0 L207.0 850.9 L210.0 849.8 L213.0 848.8 L216.0 847.7 L219.0 846.6 L222.0 845.5 L225.0 844.4 L228.0 843.3 L231.0 842.2 L234.0 841.1 L237.0 840.0 L240.0 838.9 L243.0 837.8 L246.0 836.7 L249.0 835.6 L252.0 834.5 L255.0 833.4 L258.0 832.2 L261.0 831.1 L264.0 830.0 L267.0 829.0 L270.0 827.9 L273.0 826.8 L276.0 825.7 L279.0 824.6 L282.0 823.5 L285.0 822.5 L288.0 821.4 L291.0 820.4 L294.0 819.3 L297.0 818.3 L300.0 817.2 L303.0 816.2 L306.0 815.2 L309.0 814.2 L312.0 813.2 L315.0 812.2 L318.0 811.3 L321.0 810.3 L324.0 809.4 L327.0 808.4 L330.0 807.5 L333.0 806.6 L336.0 805.7 L339.0 804.8 L342.0 804.0 L345.0 803.1 L348.0 802.3 L351.0 801.5 L354.0 800.7 L357.0 799.9 L360.0 799.2 L363.0 798.4 L366.0 797.7 L369.0 797.0 L372.0 796.3 L375.0 795.7 L378.0 795.0 L381.0 794.4 L384.0 793.8 L387.0 793.2 L390.0 792.7 L393.0 792.1 L396.0 791.6 L399.0 791.1 L402.0 790.6 L405.0 790.1 L408.0 789.7 L411.0 789.2 L414.0 788.8 L417.0 788.3 L420.0 787.9 L423.0 787.5 L426.0 787.1 L429.0 786.7 L432.0 786.2 L435.0 785.8 L438.0 785.4 L441.0 785.0 L444.0 784.6 L447.0 784.2 L450.0 783.8 L453.0 783.4 L456.0 783.0 L459.0 782.5 L462.0 782.1 L465.0 781.7 L468.0 781.2 L471.0 780.7 L474.0 780.2 L477.0 779.8 L480.0 779.2 L483.0 778.7 L486.0 778.2 L489.0 777.6 L492.0 777.0 L495.0 776.4 L498.0 775.8 L501.0 775.2 L504.0 774.5 L507.0 773.8 L510.0 773.1 L513.0 772.3 L516.0 771.6 L519.0 770.8 L522.0 769.9 L525.0 769.1 L528.0 768.2 L531.0 767.2 L534.0 766.3 L537.0 765.3 L540.0 764.3 L543.0 763.2 L546.0 762.1 L549.0 761.0 L552.0 759.8 L555.0 758.6 L558.0 757.4 L561.0 756.2 L564.0 754.9 L567.0 753.5 L570.0 752.2 L573.0 750.8 L576.0 749.3 L579.0 747.9 L582.0 746.4 L585.0 744.8 L588.0 743.2 L591.0 741.6 L594.0 739.9 L597.0 738.2 L600.0 736.5 L603.0 734.7 L606.0 732.9 L609.0 731.0 L612.0 729.1 L615.0 727.2 L618.0 725.2 L621.0 723.2 L624.0 721.1 L627.0 719.0 L630.0 716.8 L633.0 714.6 L636.0 712.4 L639.0 710.1 L642.0 707.8 L645.0 705.4 L648.0 703.0 L651.0 700.5 L654.0 698.0 L657.0 695.5 L660.0 692.9 L663.0 690.3 L666.0 687.7 L669.0 685.0 L672.0 682.3 L675.0 679.6 L678.0 676.9 L681.0 674.2 L684.0 671.5 L687.0 668.8 L690.0 666.1 L693.0 663.3 L696.0 660.6 L699.0 657.9 L702.0 655.2 L705.0 652.5 L708.0 649.9 L711.0 647.2 L714.0 644.6 L717.0 641.9 L720.0 639.3 L723.0 636.7 L726.0 634.1 L729.0 631.5 L732.0 629.0 L735.0 626.4 L738.0 623.9 L741.0 621.4 L744.0 619.0 L747.0 616.5 L750.0 614.1 L753.0 611.7 L756.0 609.3 L759.0 606.9 L762.0 604.6 L765.0 602.3 L768.0 600.0 L771.0 597.8 L774.0 595.5 L777.0 593.3 L780.0 591.1 L783.0 589.0 L786.0 586.8 L789.0 584.6 L792.0 582.5 L795.0 580.3 L798.0 578.1 L801.0 575.9 L804.0 573.6 L807.0 571.4 L810.0 569.1 L813.0 566.7 L816.0 564.3 L819.0 561.9 L822.0 559.4 L825.0 556.8 L828.0 554.2 L831.0 551.5 L834.0 548.7 L837.0 545.8 L840.0 542.8 L843.0 539.7 L846.0 536.5 L849.0 533.2 L852.0 529.7 L855.0 526.1 L858.0 522.4 L861.0 518.5 L864.0 514.4 L867.0 510.2 L870.0 505.8 L873.0 501.3 L876.0 496.5 L879.0 491.7 L882.0 486.6 L885.0 481.4 L888.0 476.1 L891.0 470.6 L894.0 464.9 L897.0 459.2 L900.0 453.3 L903.0 447.2 L906.0 441.1 L909.0 434.9 L912.0 428.6 L915.0 422.2 L918.0 415.8 L921.0 409.3 L924.0 402.8 L927.0 396.3 L930.0 389.7 L933.0 383.2 L936.0 376.6 L939.0 370.1 L942.0 363.5 L945.0 357.1 L948.0 350.6 L951.0 344.3 L954.0 338.0 L957.0 331.7 L960.0 325.6 L963.0 319.5 L966.0 313.6 L969.0 307.8 L972.0 302.0 L975.0 296.4 L978.0 290.9 L981.0 285.6 L984.0 280.3 L987.0 275.3 L990.0 270.3 L993.0 265.6 L996.0 261.0 L999.0 256.5 L1002.0 252.2 L1005.0 248.0 L1008.0 244.0 L1011.0 240.1 L1014.0 236.4 L1017.0 232.7 L1020.0 229.1 L1023.0 225.7 L1026.0 222.3 L1029.0 219.0 L1032.0 215.7 L1035.0 212.6 L1038.0 209.4 L1041.0 206.4 L1044.0 203.3 L1047.0 200.3 L1050.0 197.4 L1053.0 194.4 L1056.0 191.5 L1059.0 188.7 L1062.0 185.8 L1065.0 183.0 L1068.0 180.2 L1071.0 177.5 L1074.0 174.7 L1077.0 172.0 L1080.0 169.3 L1083.0 166.6 L1086.0 164.0 L1089.0 161.3 L1092.0 158.7 L1095.0 156.1 L1098.0 153.5 L1101.0 150.9 L1104.0 148.3 L1107.0 145.7 L1110.0 143.1 L1113.0 140.6 L1116.0 138.0 L1119.0 135.4 L1122.0 132.9 L1125.0 130.3 L1128.0 127.8 L1131.0 125.2 L1134.0 122.7 L1137.0 120.2 L1140.0 117.7 L1143.0 115.2 L1146.0 112.7 L1149.0 110.3 L1152.0 107.9 L1155.0 105.5 L1158.0 103.2 L1161.0 100.8 L1164.0 98.6 L1167.0 96.3 L1170.0 94.1 L1173.0 91.9 L1176.0 89.8 L1179.0 87.7 L1182.0 85.7 L1185.0 83.7 L1188.0 81.7 L1191.0 79.8 L1194.0 77.9 L1197.0 76.1 L1200.0 74.2 L1203.0 72.4 L1206.0 70.7 L1209.0 68.9 L1212.0 67.2 L1215.0 65.5 L1218.0 63.8 L1221.0 62.1 L1224.0 60.4 L1227.0 58.8 L1230.0 57.1 L1233.0 55.5 L1236.0 53.8 L1239.0 52.2 L1242.0 50.5 L1245.0 48.9 L1248.0 47.2 L1251.0 45.5 L1254.0 43.9 L1257.0 42.2 L1260.0 40.5 L1263.0 38.7 L1266.0 37.0 L1269.0 35.2 L1272.0 33.5 L1275.0 31.6 L1278.0 29.8 L1281.0 27.9 L1284.0 26.0 L1287.0 24.1 L1290.0 22.1 L1293.0 20.1 L1296.0 18.0 L1299.0 15.9 L1300.0 15.2" stroke="#808000" stroke-width="6.6"/>
<line x1="899" y1="490" x2="518.3" y2="858.3" stroke="#000" stroke-width="2.2" stroke-dasharray="2.2 2.4"/>
<line x1="837.2" y1="472.1" x2="557.2" y2="858.3" stroke="#000" stroke-width="2.2" stroke-dasharray="2.2 2.4"/>
<line x1="964.8" y1="291.6" x2="595.3" y2="854.8" stroke="#000" stroke-width="2.2" stroke-dasharray="2.2 2.4"/>
<line x1="937.1" y1="340.3" x2="621.6" y2="853.2" stroke="#000" stroke-width="2.2" stroke-dasharray="2.2 2.4"/>
<line x1="925.3" y1="403.2" x2="679" y2="858.3" stroke="#000" stroke-width="2.2" stroke-dasharray="2.2 2.4"/>
<line x1="924" y1="448" x2="690.8" y2="858.3" stroke="#000" stroke-width="2.2" stroke-dasharray="2.2 2.4"/>
</g>
<g stroke="#000" stroke-width="3.5" fill="none" stroke-linecap="square">
<path d="M192.1 25.7 L1328.2 25.7 L1328.2 858.2"/>
</g>
<g font-family="'Liberation Serif', 'Times New Roman', serif" font-weight="bold" font-size="41.5" fill="#000">
<text x="192.10" y="919.8" text-anchor="middle">2.50</text>
<text x="381.45" y="919.8" text-anchor="middle">2.75</text>
<text x="570.80" y="919.8" text-anchor="middle">3.00</text>
<text x="760.15" y="919.8" text-anchor="middle">3.25</text>
<text x="949.50" y="919.8" text-anchor="middle">3.50</text>
<text x="1138.85" y="919.8" text-anchor="middle">3.75</text>
<text x="1328.20" y="919.8" text-anchor="middle">4.00</text>
<text x="163" y="871.00" text-anchor="end">0.5</text>
<text x="163" y="704.50" text-anchor="end">1.0</text>
<text x="163" y="538.00" text-anchor="end">1.5</text>
<text x="163" y="371.50" text-anchor="end">2.0</text>
<text x="163" y="205.00" text-anchor="end">2.5</text>
<text x="163" y="38.50" text-anchor="end">3.0</text>
</g>
<g font-family="'Liberation Serif', 'Times New Roman', serif" font-weight="bold" fill="#000">
<text x="689.3" y="995.8" font-size="45.3">hν</text>
<text transform="translate(746.2 995.8) scale(1.028 1)" font-size="45.3">(eV)</text>
<text transform="translate(56.6 610) rotate(-90)" font-size="46.4">[F(R)*hν]</text>
<text transform="translate(36.1 415.9) rotate(-90)" font-size="33">1/2</text>
<text transform="translate(56.6 362.6) rotate(-90)" font-size="46.4">(eV)</text>
<text transform="translate(36.1 276.2) rotate(-90)" font-size="33">1/2</text>
</g>
<g font-family="'Liberation Serif', 'Times New Roman', serif" font-size="33" fill="#000">
<line x1="380" y1="170.50" x2="455.5" y2="170.50" stroke="#000000" stroke-width="6.6"/>
<text x="474.5" y="183.10">0 W</text>
<line x1="380" y1="215.15" x2="455.5" y2="215.15" stroke="#FF0000" stroke-width="6.6"/>
<text x="474.5" y="227.75">25 W</text>
<line x1="380" y1="259.80" x2="455.5" y2="259.80" stroke="#0000FF" stroke-width="6.6"/>
<text x="474.5" y="272.40">35 W</text>
<line x1="380" y1="304.45" x2="455.5" y2="304.45" stroke="#008080" stroke-width="6.6"/>
<text x="474.5" y="317.05">50 W</text>
<line x1="380" y1="349.10" x2="455.5" y2="349.10" stroke="#FF00FF" stroke-width="6.6"/>
<text x="474.5" y="361.70">75 W</text>
<line x1="380" y1="393.75" x2="455.5" y2="393.75" stroke="#808000" stroke-width="6.6"/>
<text x="474.5" y="406.35">100 W</text>
</g>
</svg>
</body></html>
